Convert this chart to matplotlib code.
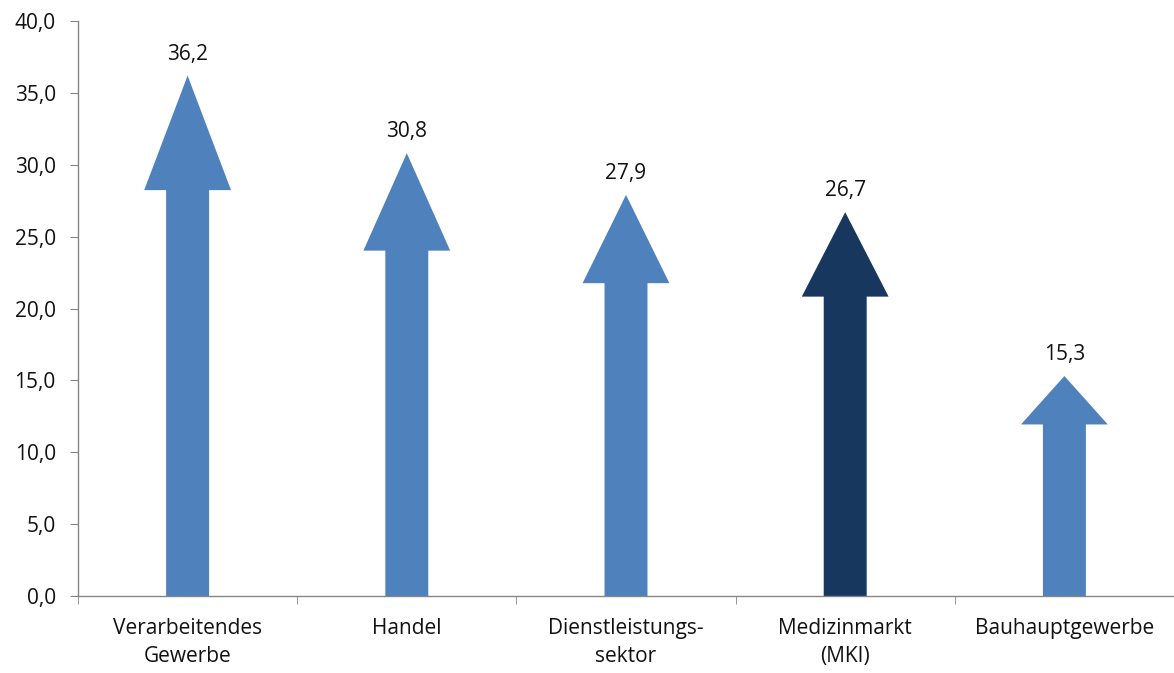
import matplotlib
matplotlib.use("Agg")
import matplotlib.pyplot as plt
from matplotlib.ticker import FixedLocator, FuncFormatter

plt.rcParams["font.family"] = ["Open Sans", "DejaVu Sans"]

categories = ["Verarbeitendes\nGewerbe", "Handel", "Dienstleistungs-\nsektor", "Medizinmarkt\n(MKI)", "Bauhauptgewerbe"]
values = [36.2, 30.8, 27.9, 26.7, 15.3]
colors = ["#4F81BD", "#4F81BD", "#4F81BD", "#17375E", "#4F81BD"]
y_ticks = [0, 5, 10, 15, 20, 25, 30, 35, 40]

fig = plt.figure(figsize=(11.74, 6.73), dpi=100)
ax = fig.add_axes([78 / 1174, 77 / 673, 1 - 78 / 1174, 575 / 673])

for i, (v, c) in enumerate(zip(values, colors)):
    ax.arrow(i, 0, 0, v, width=0.196, head_width=0.396, head_length=0.22 * v,
             length_includes_head=True, color=c, linewidth=0)
    ax.annotate(f"{v:.1f}".replace(".", ","), (i, v), xytext=(0, 8),
                textcoords="offset points", ha="center", va="bottom",
                fontsize=15, color="#111111")

ax.set_xlim(-0.5, len(values) - 0.5)
ax.set_ylim(0, 40)
ax.yaxis.set_major_locator(FixedLocator(y_ticks))
ax.yaxis.set_major_formatter(FuncFormatter(lambda y, _: f"{y:.1f}".replace(".", ",")))

ax.set_xticks(range(len(categories)))
ax.set_xticklabels(categories, fontsize=15, color="#111111", linespacing=1.45)
ax.xaxis.set_minor_locator(FixedLocator([i - 0.5 for i in range(len(categories) + 1)]))
ax.tick_params(axis="x", which="major", length=0, pad=16)
ax.tick_params(axis="x", which="minor", length=6, direction="out", color="#868686")
ax.tick_params(axis="y", length=6, direction="out", color="#868686", pad=10,
               labelsize=15, labelcolor="#111111")

for side in ["top", "right"]:
    ax.spines[side].set_visible(False)
for side in ["left", "bottom"]:
    ax.spines[side].set_color("#868686")
    ax.spines[side].set_linewidth(1)

fig.savefig("out.png", dpi=100)
